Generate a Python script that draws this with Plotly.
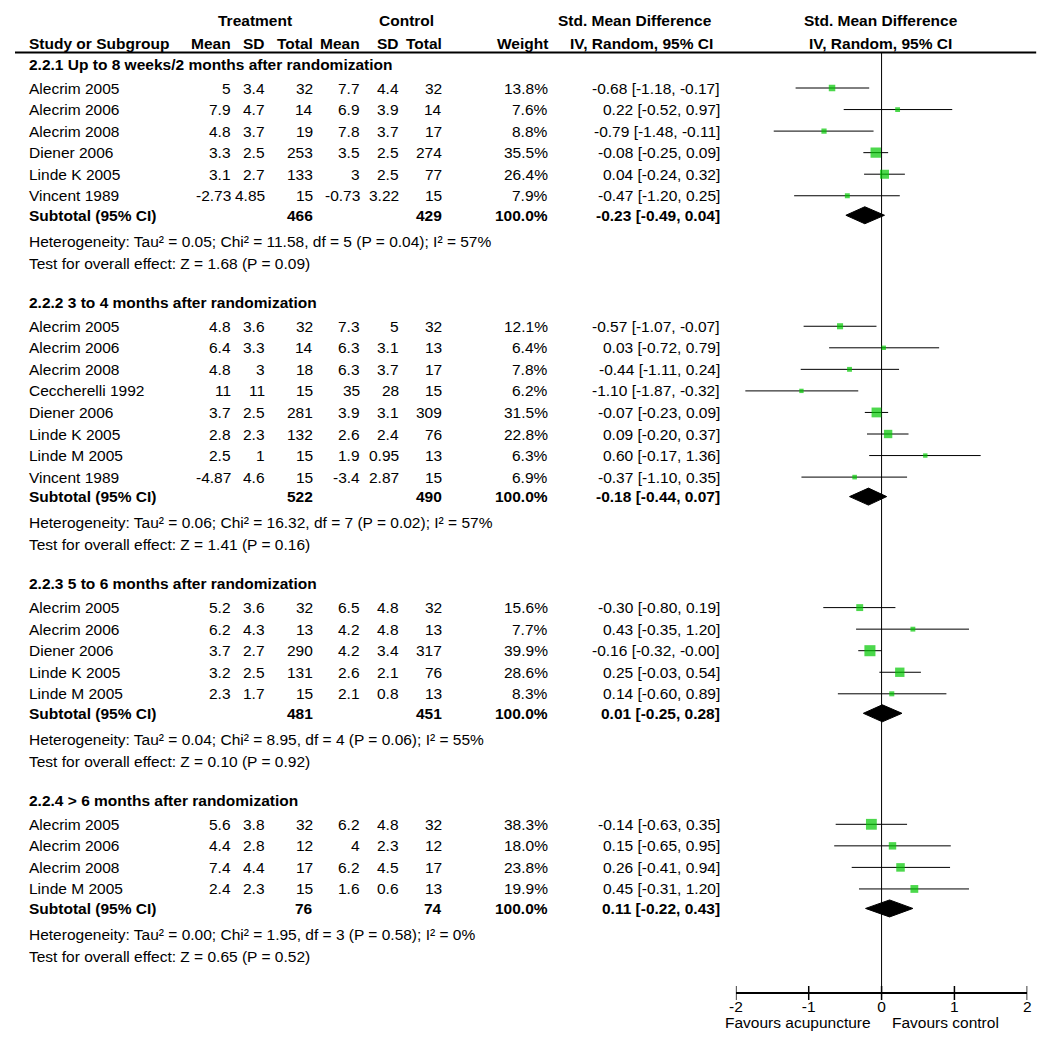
import plotly.graph_objects as go

# ---------------- data ----------------
group_titles = [
    "2.2.1 Up to 8 weeks/2 months after randomization",
    "2.2.2 3 to 4 months after randomization",
    "2.2.3 5 to 6 months after randomization",
    "2.2.4 > 6 months after randomization",
]

g1_studies = ["Alecrim 2005", "Alecrim 2006", "Alecrim 2008", "Diener 2006", "Linde K 2005", "Vincent 1989"]
g1_t_mean = [5, 7.9, 4.8, 3.3, 3.1, -2.73]
g1_t_sd = [3.4, 4.7, 3.7, 2.5, 2.7, 4.85]
g1_t_n = [32, 14, 19, 253, 133, 15]
g1_c_mean = [7.7, 6.9, 7.8, 3.5, 3, -0.73]
g1_c_sd = [4.4, 3.9, 3.7, 2.5, 2.5, 3.22]
g1_c_n = [32, 14, 17, 274, 77, 15]
g1_weight = [13.8, 7.6, 8.8, 35.5, 26.4, 7.9]
g1_smd = [-0.68, 0.22, -0.79, -0.08, 0.04, -0.47]
g1_lo = [-1.18, -0.52, -1.48, -0.25, -0.24, -1.20]
g1_hi = [-0.17, 0.97, -0.11, 0.09, 0.32, 0.25]

g2_studies = ["Alecrim 2005", "Alecrim 2006", "Alecrim 2008", "Ceccherelli 1992", "Diener 2006",
              "Linde K 2005", "Linde M 2005", "Vincent 1989"]
g2_t_mean = [4.8, 6.4, 4.8, 11, 3.7, 2.8, 2.5, -4.87]
g2_t_sd = [3.6, 3.3, 3, 11, 2.5, 2.3, 1, 4.6]
g2_t_n = [32, 14, 18, 15, 281, 132, 15, 15]
g2_c_mean = [7.3, 6.3, 6.3, 35, 3.9, 2.6, 1.9, -3.4]
g2_c_sd = [5, 3.1, 3.7, 28, 3.1, 2.4, 0.95, 2.87]
g2_c_n = [32, 13, 17, 15, 309, 76, 13, 15]
g2_weight = [12.1, 6.4, 7.8, 6.2, 31.5, 22.8, 6.3, 6.9]
g2_smd = [-0.57, 0.03, -0.44, -1.10, -0.07, 0.09, 0.60, -0.37]
g2_lo = [-1.07, -0.72, -1.11, -1.87, -0.23, -0.20, -0.17, -1.10]
g2_hi = [-0.07, 0.79, 0.24, -0.32, 0.09, 0.37, 1.36, 0.35]

g3_studies = ["Alecrim 2005", "Alecrim 2006", "Diener 2006", "Linde K 2005", "Linde M 2005"]
g3_t_mean = [5.2, 6.2, 3.7, 3.2, 2.3]
g3_t_sd = [3.6, 4.3, 2.7, 2.5, 1.7]
g3_t_n = [32, 13, 290, 131, 15]
g3_c_mean = [6.5, 4.2, 4.2, 2.6, 2.1]
g3_c_sd = [4.8, 4.8, 3.4, 2.1, 0.8]
g3_c_n = [32, 13, 317, 76, 13]
g3_weight = [15.6, 7.7, 39.9, 28.6, 8.3]
g3_smd = [-0.30, 0.43, -0.16, 0.25, 0.14]
g3_lo = [-0.80, -0.35, -0.32, -0.03, -0.60]
g3_hi = [0.19, 1.20, -0.0, 0.54, 0.89]

g4_studies = ["Alecrim 2005", "Alecrim 2006", "Alecrim 2008", "Linde M 2005"]
g4_t_mean = [5.6, 4.4, 7.4, 2.4]
g4_t_sd = [3.8, 2.8, 4.4, 2.3]
g4_t_n = [32, 12, 17, 15]
g4_c_mean = [6.2, 4, 6.2, 1.6]
g4_c_sd = [4.8, 2.3, 4.5, 0.6]
g4_c_n = [32, 12, 17, 13]
g4_weight = [38.3, 18.0, 23.8, 19.9]
g4_smd = [-0.14, 0.15, 0.26, 0.45]
g4_lo = [-0.63, -0.65, -0.41, -0.31]
g4_hi = [0.35, 0.95, 0.94, 1.20]

sub_t_n = [466, 522, 481, 76]
sub_c_n = [429, 490, 451, 74]
sub_weight = [100.0, 100.0, 100.0, 100.0]
sub_smd = [-0.23, -0.18, 0.01, 0.11]
sub_lo = [-0.49, -0.44, -0.25, -0.22]
sub_hi = [0.04, 0.07, 0.28, 0.43]

het_tau2 = [0.05, 0.06, 0.04, 0.00]
het_chi2 = [11.58, 16.32, 8.95, 1.95]
het_df = [5, 7, 4, 3]
het_p = [0.04, 0.02, 0.06, 0.58]
het_i2 = [57, 57, 55, 0]
overall_z = [1.68, 1.41, 0.10, 0.65]
overall_p = [0.09, 0.16, 0.92, 0.52]

axis_ticks = [-2, -1, 0, 1, 2]
axis_ticktext = ["-2", "-1", "0", "1", "2"]
favours_left = "Favours acupuncture"
favours_right = "Favours control"

groups = [
    (g1_studies, g1_t_mean, g1_t_sd, g1_t_n, g1_c_mean, g1_c_sd, g1_c_n, g1_weight, g1_smd, g1_lo, g1_hi),
    (g2_studies, g2_t_mean, g2_t_sd, g2_t_n, g2_c_mean, g2_c_sd, g2_c_n, g2_weight, g2_smd, g2_lo, g2_hi),
    (g3_studies, g3_t_mean, g3_t_sd, g3_t_n, g3_c_mean, g3_c_sd, g3_c_n, g3_weight, g3_smd, g3_lo, g3_hi),
    (g4_studies, g4_t_mean, g4_t_sd, g4_t_n, g4_c_mean, g4_c_sd, g4_c_n, g4_weight, g4_smd, g4_lo, g4_hi),
]

# ---------------- layout constants (screen pixels) ----------------
W, H = 1050, 1044
OFF = 8                  # page offset of the figure in the viewer
FONT = "Liberation Sans, Arial, sans-serif"
FS = 15.5
X0, X1 = 736.5, 1031     # screen span of forest axis (-2..2)
AXIS_Y = 993
GREEN = "#00c800"

COL_LABEL = 20
COL_TM, COL_TSD, COL_TN = 228, 263, 311
COL_CM, COL_CSD, COL_CN = 359, 398, 442
COL_W = 549
COL_CI = 722

fig = go.Figure()
ann = []


def txt(x, y, s, anchor="left", bold=False, color="#000"):
    ann.append(dict(x=x, y=y, xref="x", yref="y", text=(f"<b>{s}</b>" if bold else s),
                    showarrow=False, xanchor=anchor, yanchor="middle",
                    font=dict(family=FONT, size=FS, color=color)))


def fnum(v):
    return f"{v:g}"


def fci(e, lo, hi):
    return f"{e:.2f} [{lo:.2f}, {hi:.2f}]"


# headers
txt(251, 20, "Treatment", "center", True)
txt(404, 20, "Control", "center", True)
txt(635, 20, "Std. Mean Difference", "center", True)
txt(883, 20, "Std. Mean Difference", "center", True)
txt(COL_LABEL, 43, "Study or Subgroup", "left", True)
txt(COL_TM, 43, "Mean", "right", True)
txt(COL_TSD, 43, "SD", "right", True)
txt(COL_TN, 43, "Total", "right", True)
txt(COL_CM, 43, "Mean", "right", True)
txt(COL_CSD, 43, "SD", "right", True)
txt(COL_CN, 43, "Total", "right", True)
txt(COL_W, 43, "Weight", "right", True)
txt(641, 43, "IV, Random, 95% CI", "center", True)
txt(883, 43, "IV, Random, 95% CI", "center", True)

fig.add_shape(type="line", xref="x", yref="y", x0=7, x1=1040, y0=52.5, y1=52.5,
              line=dict(color="#000", width=2))

ROW = 21.55
y = 64
sq_x, sq_y, sq_s = [], [], []
ci_x, ci_y = [], []
for gi, g in enumerate(groups):
    names, tm, tsd, tn, cm, csd, cn, wt, smd, lo, hi = g
    txt(COL_LABEL, y, group_titles[gi], "left", True)
    ys = y + 24
    for i, nm in enumerate(names):
        yy = ys + i * ROW
        txt(COL_LABEL, yy, nm)
        txt(COL_TM, yy, fnum(tm[i]), "right")
        txt(COL_TSD, yy, fnum(tsd[i]), "right")
        txt(COL_TN, yy, fnum(tn[i]), "right")
        txt(COL_CM, yy, fnum(cm[i]), "right")
        txt(COL_CSD, yy, fnum(csd[i]), "right")
        txt(COL_CN, yy, fnum(cn[i]), "right")
        txt(COL_W, yy, f"{wt[i]:.1f}%", "right")
        txt(COL_CI, yy, fci(smd[i], lo[i], hi[i]), "right")
        ci_x += [lo[i], hi[i], None]
        ci_y += [yy, yy, None]
        sq_x.append(smd[i])
        sq_y.append(yy)
        sq_s.append(1.75 * wt[i] ** 0.5)
    last = ys + (len(names) - 1) * ROW
    ysub = last + 19.5
    txt(COL_LABEL, ysub, "Subtotal (95% CI)", "left", True)
    txt(COL_TN, ysub, fnum(sub_t_n[gi]), "right", True)
    txt(COL_CN, ysub, fnum(sub_c_n[gi]), "right", True)
    txt(COL_W, ysub, f"{sub_weight[gi]:.1f}%", "right", True)
    txt(COL_CI, ysub, fci(sub_smd[gi], sub_lo[gi], sub_hi[gi]), "right", True)
    hh = 8.5
    fig.add_trace(go.Scatter(
        x=[sub_lo[gi], sub_smd[gi], sub_hi[gi], sub_smd[gi], sub_lo[gi]],
        y=[ysub, ysub - hh, ysub, ysub + hh, ysub],
        xaxis="x2", yaxis="y", mode="lines", fill="toself",
        fillcolor="#000", line=dict(color="#000", width=1), hoverinfo="skip", showlegend=False))
    yh = ysub + 26
    txt(COL_LABEL, yh,
        f"Heterogeneity: Tau² = {het_tau2[gi]:.2f}; Chi² = {het_chi2[gi]:.2f}, df = {het_df[gi]} "
        f"(P = {het_p[gi]:.2f}); I² = {het_i2[gi]}%")
    yt = yh + 22
    txt(COL_LABEL, yt, f"Test for overall effect: Z = {overall_z[gi]:.2f} (P = {overall_p[gi]:.2f})")
    y = yt + 39

fig.add_trace(go.Scatter(x=[0, 0], y=[52.5, AXIS_Y], xaxis="x2", yaxis="y", mode="lines",
                         line=dict(color="#000", width=1), hoverinfo="skip", showlegend=False))
fig.add_trace(go.Scatter(x=ci_x, y=ci_y, xaxis="x2", yaxis="y", mode="lines",
                         line=dict(color="#000", width=1), hoverinfo="skip", showlegend=False))
fig.add_trace(go.Scatter(x=sq_x, y=sq_y, xaxis="x2", yaxis="y", mode="markers",
                         marker=dict(symbol="square", size=sq_s, color=GREEN, line=dict(width=0)),
                         hoverinfo="skip", showlegend=False))
fig.add_trace(go.Scatter(x=axis_ticks, y=[AXIS_Y] * len(axis_ticks), xaxis="x2", yaxis="y",
                         mode="markers",
                         marker=dict(symbol="line-ns", size=10, line=dict(color="#000", width=1.5)),
                         hoverinfo="skip", showlegend=False))

ann.append(dict(x=-0.12, y=1022, xref="x2", yref="y", text=favours_left, showarrow=False,
                xanchor="right", yanchor="middle", font=dict(family=FONT, size=FS, color="#000")))
ann.append(dict(x=0.11, y=1022, xref="x2", yref="y", text=favours_right, showarrow=False,
                xanchor="left", yanchor="middle", font=dict(family=FONT, size=FS, color="#000")))

fig.update_layout(
    width=W, height=H, margin=dict(l=0, r=0, t=0, b=0),
    paper_bgcolor="white", plot_bgcolor="white",
    showlegend=False,
    annotations=ann,
    xaxis=dict(range=[OFF, W + OFF], domain=[0, 1], visible=False, fixedrange=True),
    yaxis=dict(range=[H + OFF, OFF], domain=[0, 1], visible=False, fixedrange=True),
    xaxis2=dict(range=[-2, 2], domain=[(X0 - OFF) / W, (X1 - OFF) / W], anchor="free",
                position=(H - (AXIS_Y - OFF)) / H,
                showline=True, linecolor="#000", linewidth=1.5, showgrid=False, zeroline=False,
                ticks="", tickvals=axis_ticks, ticktext=axis_ticktext,
                tickfont=dict(family=FONT, size=FS, color="#000"), fixedrange=True),
)

fig.write_html("out.html")
